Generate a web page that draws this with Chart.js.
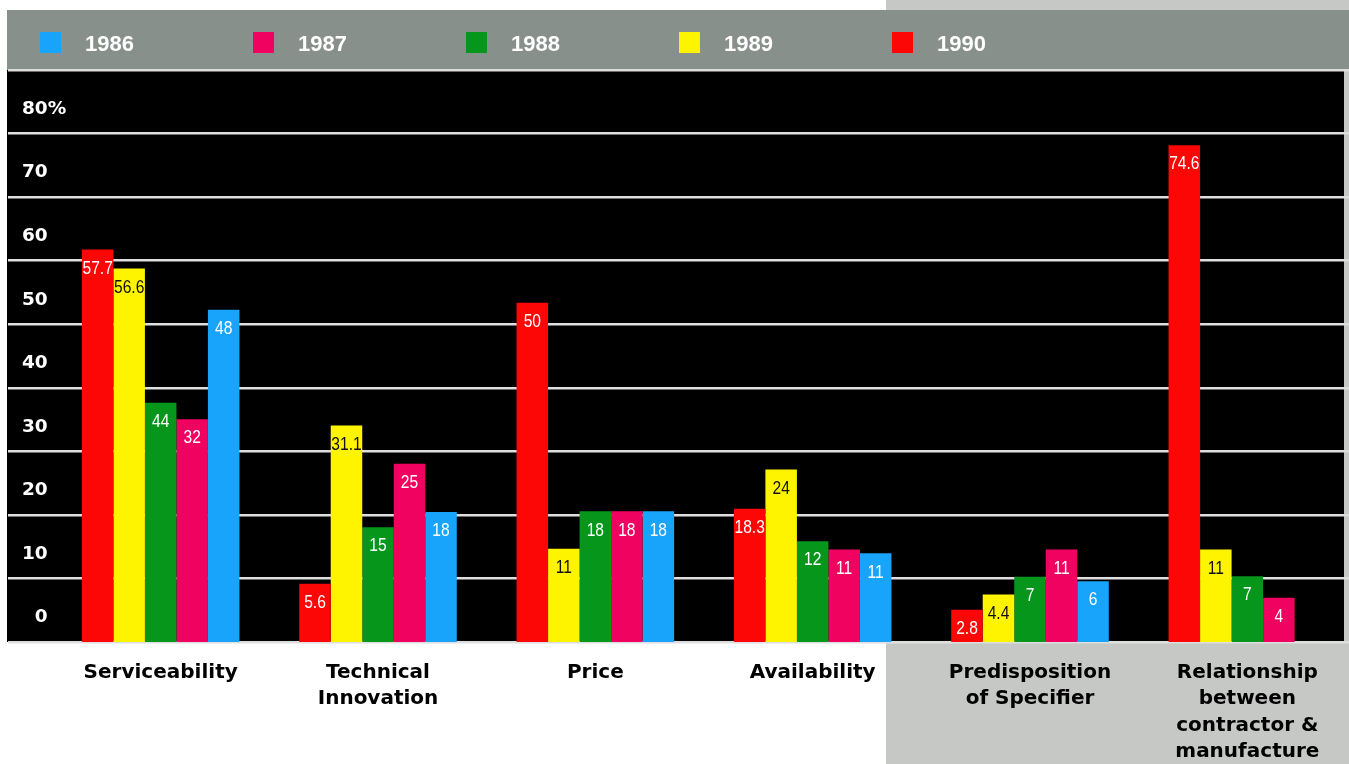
<!DOCTYPE html>
<html>
<head>
<meta charset="utf-8">
<title>Selection criteria 1986-1990</title>
<script src="https://cdn.jsdelivr.net/npm/chart.js@4.4.1/dist/chart.umd.min.js"></script>
<style>
  html, body { margin: 0; padding: 0; background: #fff; overflow: hidden; }
  #wrap { width: 1349px; height: 764px; overflow: hidden; }
</style>
</head>
<body>
<div id="wrap"><canvas id="criteria" width="1360" height="764"></canvas></div>
<script>
const categories = [
  'Serviceability',
  ['Technical', 'Innovation'],
  'Price',
  'Availability',
  ['Predisposition', 'of Specifier'],
  ['Relationship', 'between', 'contractor &', 'manufacture']
];

// bar heights as drawn (percent)
const values1990 = [57.9, 5.3, 49.5, 17.1, 1.2, 74.3];
const values1989 = [54.9, 30.2, 10.8, 23.3, 3.6, 10.7];
const values1988 = [33.8, 14.2, 16.7, 12.0, 6.4, 6.5];
const values1987 = [31.2, 24.2, 16.7, 10.7, 10.7, 3.1];
const values1986 = [48.4, 16.6, 16.7, 10.1, 5.7, null];

// numbers printed on the bars
const printed1990 = ['57.7', '5.6', '50', '18.3', '2.8', '74.6'];
const printed1989 = ['56.6', '31.1', '11', '24', '4.4', '11'];
const printed1988 = ['44', '15', '18', '12', '7', '7'];
const printed1987 = ['32', '25', '18', '11', '11', '4'];
const printed1986 = ['48', '18', '18', '11', '6', null];

const yLabels = ['\u20070', '10', '20', '30', '40', '50', '60', '70', '80%'];

window.chartColors = {
    red: 'rgb(252, 6, 6)',
    yellow: 'rgb(255, 244, 0)',
    green: 'rgb(6, 150, 28)',
    pink: 'rgb(240, 2, 96)',
    blue: 'rgb(24, 164, 250)'
}

// bars are measured against the label centres, which sit above the grid lines
const axisFloor = -3.86;

const backdrop = {
    id: 'backdrop',
    beforeDraw(chart) {
        const ctx = chart.ctx;
        const area = chart.chartArea;
        ctx.save();
        ctx.fillStyle = '#ffffff';
        ctx.fillRect(0, 0, chart.width, chart.height);
        ctx.fillStyle = 'rgb(197, 200, 197)';
        ctx.fillRect(886, 0, chart.width - 886, chart.height);
        ctx.fillStyle = 'rgb(136, 144, 140)';
        ctx.fillRect(7, 10, chart.width - 7, area.top - 10);
        ctx.fillStyle = '#000000';
        ctx.fillRect(7, area.top, 1344 - 7, area.bottom - area.top);
        ctx.restore();
    }
};

const yearKey = {
    id: 'yearKey',
    afterDraw(chart) {
        const ctx = chart.ctx;
        ctx.save();
        ctx.font = 'bold 22px "Liberation Sans", Arial, sans-serif';
        ctx.textBaseline = 'middle';
        ctx.textAlign = 'left';
        chart.data.datasets.slice().reverse().forEach((ds, i) => {
            const x = 40 + i * 213;
            ctx.fillStyle = ds.backgroundColor;
            ctx.fillRect(x, 32, 21, 21);
            ctx.fillStyle = '#ffffff';
            ctx.fillText(ds.label, x + 45, 45);
        });
        ctx.restore();
    }
};

const barValues = {
    id: 'barValues',
    afterDatasetsDraw(chart) {
        const ctx = chart.ctx;
        ctx.save();
        ctx.font = '19px "Liberation Sans", Arial, sans-serif';
        ctx.textAlign = 'center';
        ctx.textBaseline = 'middle';
        chart.data.datasets.forEach((ds, i) => {
            const meta = chart.getDatasetMeta(i);
            meta.data.forEach((bar, j) => {
                const text = ds.printed[j];
                if (text == null || ds.data[j] == null) return;
                ctx.save();
                ctx.translate(bar.x, bar.y + 19);
                ctx.scale(0.82, 1);
                ctx.fillStyle = ds.labelColor;
                ctx.fillText(text, 0, 0);
                ctx.restore();
            });
        });
        ctx.restore();
    }
};

let criteria = new Chart(document.getElementById("criteria").getContext("2d"), {
    type: 'bar',
    data: {
        labels: categories,
        datasets: [{
                label: "1990",
                yAxisID: 'v',
                data: values1990,
                printed: printed1990,
                labelColor: '#ffffff',
                backgroundColor: window.chartColors.red
            },
            {
                label: "1989",
                yAxisID: 'v',
                data: values1989,
                printed: printed1989,
                labelColor: '#111111',
                backgroundColor: window.chartColors.yellow
            },
            {
                label: "1988",
                yAxisID: 'v',
                data: values1988,
                printed: printed1988,
                labelColor: '#ffffff',
                backgroundColor: window.chartColors.green
            },
            {
                label: "1987",
                yAxisID: 'v',
                data: values1987,
                printed: printed1987,
                labelColor: '#ffffff',
                backgroundColor: window.chartColors.pink
            },
            {
                label: "1986",
                yAxisID: 'v',
                data: values1986,
                printed: printed1986,
                labelColor: '#ffffff',
                backgroundColor: window.chartColors.blue
            }
        ]
    },
    options: {
        responsive: false,
        animation: false,
        events: [],
        devicePixelRatio: 1,
        layout: {
            padding: { top: 70, left: 8, right: 4, bottom: 0 }
        },
        datasets: {
            bar: {
                base: axisFloor,
                borderWidth: 0,
                barPercentage: 1,
                categoryPercentage: 0.725
            }
        },
        scales: {
            x: {
                grid: { display: false },
                border: { display: false },
                ticks: {
                    autoSkip: false,
                    maxRotation: 0,
                    padding: 9,
                    color: '#000000',
                    font: { family: '"DejaVu Sans", sans-serif', weight: 'bold', size: 20, lineHeight: 1.33 }
                },
                afterFit: (scale) => { scale.height = 122; }
            },
            y: {
                position: 'left',
                min: 0,
                max: 90,
                grid: {
                    color: 'rgb(222, 222, 222)',
                    lineWidth: 2.5,
                    drawTicks: true,
                    tickLength: 44
                },
                border: { display: false },
                ticks: {
                    stepSize: 10,
                    mirror: true,
                    padding: -30,
                    labelOffset: -24.5,
                    color: '#ffffff',
                    font: { family: '"DejaVu Sans", sans-serif', weight: 'bold', size: 18.5 },
                    callback: (value, index) => yLabels[index] ?? ''
                },
                afterFit: (scale) => { scale.width = 44; }
            },
            v: {
                display: false,
                position: 'left',
                min: axisFloor,
                max: 90 + axisFloor
            }
        },
        plugins: {
            legend: { display: false },
            tooltip: { enabled: false }
        }
    },
    plugins: [backdrop, barValues, yearKey]
});
</script>
</body>
</html>
